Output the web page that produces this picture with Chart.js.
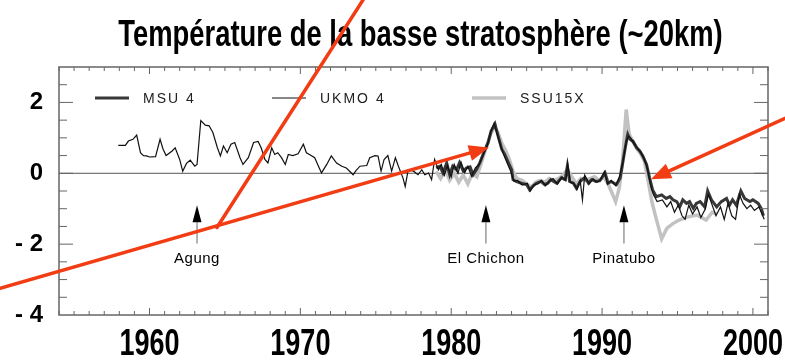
<!DOCTYPE html>
<html>
<head>
<meta charset="utf-8">
<script src="https://cdn.jsdelivr.net/npm/chart.js@4.4.1/dist/chart.umd.min.js"></script>
<style>
  body { margin: 0; background: #fff; }
</style>
</head>
<body>
<canvas id="myChart" width="785" height="360"></canvas>
<script>
// Données (anomalies de température, °C)
var ukmoYears = [1957.93, 1958.4, 1958.6, 1958.9, 1959.15, 1959.4, 1959.6, 1959.8, 1960.0, 1960.4,
  1960.7, 1960.9, 1961.1, 1961.5, 1961.7, 1962.0, 1962.2, 1962.45, 1962.7, 1963.0,
  1963.15, 1963.4, 1963.7, 1963.95, 1964.2, 1964.5, 1964.7, 1964.9, 1965.15, 1965.4,
  1965.65, 1966.0, 1966.2, 1966.55, 1966.9, 1967.2, 1967.4, 1967.65, 1967.85, 1968.1,
  1968.3, 1968.5, 1968.75, 1969.0, 1969.2, 1969.5, 1969.85, 1970.2, 1970.4, 1970.6,
  1970.95, 1971.4, 1971.75, 1972.05, 1972.4, 1972.75, 1973.05, 1973.5, 1973.7, 1973.95,
  1974.4, 1974.6, 1974.95, 1975.15, 1975.35, 1975.55, 1975.8, 1976.05, 1976.3, 1976.5,
  1976.8, 1976.95, 1977.15, 1977.5, 1977.8, 1978.05, 1978.25, 1978.5, 1978.7, 1978.9,
  1979.15, 1979.35, 1979.55, 1979.75, 1980.0, 1980.2, 1980.45, 1980.65, 1980.9, 1981.1,
  1981.35, 1981.6, 1981.85, 1982.1, 1982.4, 1982.6, 1982.85, 1983.05, 1983.3, 1983.5,
  1983.7, 1983.95, 1984.15, 1984.4, 1984.7, 1985.05, 1985.25, 1985.5, 1985.75, 1986.0,
  1986.25, 1986.5, 1986.75, 1987.05, 1987.35, 1987.6, 1987.72, 1987.9, 1988.15, 1988.35,
  1988.55, 1988.7, 1988.85, 1989.15, 1989.4, 1989.65, 1989.9, 1990.15, 1990.35, 1990.6,
  1990.9, 1991.15, 1991.4, 1991.6, 1991.75, 1991.9, 1992.1, 1992.35, 1992.55, 1992.75,
  1993.0, 1993.2, 1993.4, 1993.65, 1994.0, 1994.3, 1994.55, 1994.8, 1995.05, 1995.3,
  1995.5, 1995.75, 1996.0, 1996.3, 1996.55, 1996.85, 1997.05, 1997.3, 1997.55, 1997.85,
  1998.1, 1998.35, 1998.6, 1998.85, 1999.1, 1999.35, 1999.6, 1999.85, 2000.1, 2000.4,
  2000.6, 2000.75];
var ukmoTemps = [0.79, 0.79, 0.91, 0.96, 1.08, 0.58, 0.5, 0.49, 0.46, 0.47,
  0.96, 0.68, 0.5, 0.63, 0.72, 0.39, 0.06, 0.28, 0.37, 0.2,
  0.25, 1.49, 1.36, 1.34, 1.15, 0.72, 0.49, 0.77, 0.58, 0.82,
  0.87, 0.44, 0.25, 0.44, 0.87, 0.9, 0.72, 0.39, 0.29, 0.72,
  0.53, 0.58, 0.44, 0.25, 0.53, 0.5, 0.55, 0.82, 0.58, 0.53,
  0.44, 0.01, 0.25, 0.49, 0.29, 0.2, 0.15, -0.04, 0.08, 0.2,
  0.22, 0.44, 0.5, 0.49, 0.06, 0.39, 0.5, 0.06, 0.44, 0.2,
  -0.13, -0.37, 0.1, 0.06, -0.04, 0.1, -0.04, 0.01, -0.18, 0.39,
  0.1, 0.25, -0.05, 0.22, -0.1, 0.25, 0.0, 0.32, 0.02, 0.2,
  -0.08, 0.15, 0.25, 0.5, 0.8, 1.15, 1.42, 1.1, 0.75, 0.5,
  0.3, 0.05, -0.22, -0.2, -0.33, -0.28, -0.5, -0.32, -0.3, -0.2,
  -0.35, -0.22, -0.15, -0.3, -0.1, -0.2, 0.28, -0.25, -0.3, -0.45,
  -0.2, -0.75, -0.05, -0.3, -0.15, -0.25, -0.18, 0.05, -0.3, -0.2,
  -0.35, -0.1, 0.35, 0.9, 1.05, 1.0, 0.85, 0.7, 0.6, 0.45,
  0.15, -0.3, -0.6, -0.8, -0.75, -0.95, -0.8, -1.1, -0.9, -1.2,
  -1.3, -0.9, -1.15, -0.95, -1.25, -1.0, -0.6, -0.9, -1.2, -0.95,
  -1.3, -0.85, -1.2, -1.3, -0.6, -0.85, -1.0, -0.9, -1.05, -0.95,
  -1.15, -1.3];

var msuYears = [1979.0, 1979.25, 1979.45, 1979.7, 1979.9, 1980.1, 1980.35, 1980.55, 1980.8, 1981.0,
  1981.25, 1981.45, 1981.7, 1981.9, 1982.2, 1982.45, 1982.65, 1982.9, 1983.1, 1983.35,
  1983.55, 1983.75, 1984.0, 1984.1, 1984.3, 1984.65, 1985.0, 1985.2, 1985.4, 1985.65,
  1985.95, 1986.2, 1986.4, 1986.6, 1987.0, 1987.3, 1987.55, 1987.7, 1987.85, 1988.1,
  1988.3, 1988.55, 1988.85, 1989.1, 1989.3, 1989.6, 1989.85, 1990.2, 1990.4, 1990.6,
  1990.95, 1991.2, 1991.35, 1991.5, 1991.7, 1991.85, 1992.05, 1992.3, 1992.5, 1992.7,
  1992.95, 1993.15, 1993.35, 1993.6, 1993.95, 1994.25, 1994.5, 1994.7, 1994.95, 1995.15,
  1995.35, 1995.6, 1995.8, 1996.05, 1996.25, 1996.5, 1996.8, 1997.0, 1997.25, 1997.6,
  1997.9, 1998.25, 1998.45, 1998.65, 1998.9, 1999.2, 1999.45, 1999.8, 2000.0, 2000.35,
  2000.55, 2000.7];
var msuTemps = [0.15, 0.2, 0.01, 0.29, -0.04, 0.2, 0.1, 0.3, 0.06, 0.15,
  0.18, -0.04, 0.12, 0.3, 0.63, 0.87, 1.2, 1.39, 1.06, 0.68,
  0.53, 0.34, 0.1, -0.18, -0.23, -0.28, -0.32, -0.47, -0.37, -0.28,
  -0.23, -0.32, -0.28, -0.18, -0.28, -0.13, -0.18, 0.2, -0.23, -0.28,
  -0.42, -0.23, -0.12, -0.28, -0.18, -0.23, -0.21, 0.01, -0.28, -0.23,
  -0.32, -0.13, 0.25, 0.63, 1.1, 0.96, 0.9, 0.72, 0.63, 0.49,
  0.25, -0.13, -0.47, -0.66, -0.61, -0.71, -0.66, -0.75, -0.8, -0.95,
  -0.75, -0.85, -0.8, -0.99, -0.85, -0.8, -0.95, -0.5, -0.75, -0.95,
  -0.8, -0.71, -0.9, -0.75, -0.9, -0.5, -0.71, -0.8, -0.75, -0.85,
  -0.99, -1.2];

var ssuYears = [1979.0, 1979.3, 1979.6, 1979.9, 1980.2, 1980.5, 1980.8, 1981.1, 1981.4, 1981.7,
  1982.0, 1982.3, 1982.6, 1982.85, 1983.1, 1983.35, 1983.6, 1983.85, 1984.1, 1984.35,
  1984.7, 1985.0, 1985.3, 1985.6, 1985.9, 1986.2, 1986.5, 1986.8, 1987.1, 1987.4,
  1987.7, 1988.0, 1988.3, 1988.6, 1988.9, 1989.2, 1989.5, 1989.8, 1990.1, 1990.4,
  1990.65, 1990.9, 1991.15, 1991.35, 1991.6, 1991.8, 1992.05, 1992.3, 1992.55, 1992.8,
  1993.05, 1993.3, 1993.6, 1993.95, 1994.3, 1994.7, 1995.1, 1995.7, 1996.3, 1996.9,
  1997.3, 1997.6];
var ssuTemps = [0.05, -0.15, 0.1, -0.2, 0.0, -0.25, -0.05, -0.3, 0.0, -0.1,
  0.3, 0.7, 1.1, 1.3, 1.15, 0.85, 0.65, 0.4, 0.05, -0.15,
  -0.2, -0.3, -0.4, -0.25, -0.2, -0.25, -0.15, -0.2, -0.15, -0.05,
  0.1, -0.1, -0.3, -0.15, -0.2, -0.15, -0.1, -0.2, -0.1, -0.3,
  -0.55, -0.8, -0.4, 0.3, 1.8, 1.1, 0.9, 0.7, 0.55, 0.35,
  -0.2, -0.8, -1.3, -1.85, -1.55, -1.42, -1.32, -1.23, -1.18, -1.32,
  -1.1, -1.15];

var xTicks = [1960, 1970, 1980, 1990, 2000];
var yTicks = [-4, -2, 0, 2];

// Éruptions volcaniques
var volcanNoms = ['Agung', 'El Chichon', 'Pinatubo'];
var volcanAnnees = [1963.15, 1982.3, 1991.45];

var titre = 'Température de la basse stratosphère (~20km)';

function points(xs, ys) {
  return xs.map(function (x, i) { return { x: x, y: ys[i] }; });
}

var data = {
  datasets: [
    { label: 'MSU 4', data: points(msuYears, msuTemps), borderColor: '#383838', borderWidth: 3, order: 2 },
    { label: 'UKMO 4', data: points(ukmoYears, ukmoTemps), borderColor: '#111111', borderWidth: 1.2, order: 1 },
    { label: 'SSU15X', data: points(ssuYears, ssuTemps), borderColor: '#c2c2c2', borderWidth: 3.5, order: 3 },
  ],
};

// Flèches rouges ajoutées par-dessus la figure (coordonnées en année / valeur)
var flechesRouges = [
  { from: [1974.15, 4.89], to: [1964.47, -1.53], head: false },
  { from: [1950.09, -3.25], to: [1982.5, 0.73], head: true },
  { from: [2002.13, 1.55], to: [1993.24, -0.17], head: true },
];

// texte étroit et haut, comme dans la figure d'origine
function texteEtroit(ctx, txt, x, y, size, sx) {
  ctx.save();
  ctx.font = 'bold ' + size + 'px "Liberation Sans", Arial, sans-serif';
  ctx.translate(x, y);
  ctx.scale(sx, 1);
  ctx.textAlign = 'center';
  ctx.textBaseline = 'alphabetic';
  ctx.fillText(txt, 0, 0);
  ctx.restore();
}

var decor = {
  id: 'decor',
  beforeDatasetsDraw: function (chart) {
    var ctx = chart.ctx, a = chart.chartArea, y = chart.scales.y;
    var y0 = y.getPixelForValue(0);
    ctx.save();
    ctx.strokeStyle = '#555';
    ctx.lineWidth = 1;
    ctx.beginPath();
    ctx.moveTo(a.left, y0);
    ctx.lineTo(a.right, y0);
    ctx.stroke();
    ctx.restore();
  },
  afterDatasetsDraw: function (chart) {
    var ctx = chart.ctx, a = chart.chartArea, x = chart.scales.x, y = chart.scales.y;
    ctx.save();
    // cadre
    ctx.strokeStyle = '#666';
    ctx.lineWidth = 1.5;
    ctx.strokeRect(a.left, a.top, a.right - a.left, a.bottom - a.top);
    // graduations vers l'intérieur
    ctx.lineWidth = 1;
    ctx.beginPath();
    for (var yr = 1954; yr <= 2001; yr++) {
      var px = x.getPixelForValue(yr);
      var len = yr % 10 === 0 ? 7 : 4;
      ctx.moveTo(px, a.bottom); ctx.lineTo(px, a.bottom - len);
      ctx.moveTo(px, a.top); ctx.lineTo(px, a.top + len);
    }
    for (var v = -3.5; v < 3; v += 0.5) {
      var py = y.getPixelForValue(v);
      var l2 = v % 2 === 0 ? 14 : 8;
      ctx.moveTo(a.left, py); ctx.lineTo(a.left + l2, py);
      ctx.moveTo(a.right, py); ctx.lineTo(a.right - l2, py);
    }
    ctx.stroke();

    // légende dans le cadre
    var lx = [36, 213, 413];
    var ly = a.top + 31;
    ctx.font = '14px "Liberation Sans", Arial, sans-serif';
    ctx.letterSpacing = '2px';
    ctx.textBaseline = 'middle';
    ctx.textAlign = 'left';
    ctx.fillStyle = '#222';
    chart.data.datasets.forEach(function (ds, i) {
      var sx = a.left + lx[i];
      ctx.strokeStyle = ds.borderColor;
      ctx.lineWidth = ds.borderWidth;
      ctx.beginPath();
      ctx.moveTo(sx, ly);
      ctx.lineTo(sx + 34, ly);
      ctx.stroke();
      ctx.fillText(ds.label, sx + 48, ly + 1);
    });

    // éruptions
    ctx.letterSpacing = '0.5px';
    ctx.font = '15px "Liberation Sans", Arial, sans-serif';
    ctx.textAlign = 'center';
    volcanNoms.forEach(function (nom, i) {
      var px = x.getPixelForValue(volcanAnnees[i]);
      var tip = y.getPixelForValue(-0.9);
      var base = y.getPixelForValue(-1.38);
      var bottom = y.getPixelForValue(-1.98);
      ctx.strokeStyle = '#999';
      ctx.lineWidth = 1.5;
      ctx.beginPath();
      ctx.moveTo(px, base);
      ctx.lineTo(px, bottom);
      ctx.stroke();
      ctx.fillStyle = '#000';
      ctx.beginPath();
      ctx.moveTo(px, tip);
      ctx.lineTo(px - 4.5, base);
      ctx.lineTo(px + 4.5, base);
      ctx.closePath();
      ctx.fill();
      ctx.fillText(nom, px, y.getPixelForValue(-2.42));
    });
    ctx.restore();
  },
  afterDraw: function (chart) {
    var ctx = chart.ctx, a = chart.chartArea, x = chart.scales.x, y = chart.scales.y;
    ctx.save();
    ctx.fillStyle = '#000';
    // titre
    texteEtroit(ctx, titre, (a.left + a.right) / 2 + 7, 46, 37, 0.74);
    // étiquettes des années
    xTicks.forEach(function (yr) {
      texteEtroit(ctx, String(yr), x.getPixelForValue(yr), 355, 36, 0.75);
    });

    // flèches rouges
    ctx.strokeStyle = '#f23c14';
    ctx.fillStyle = '#f23c14';
    ctx.lineWidth = 3.5;
    ctx.lineCap = 'round';
    flechesRouges.forEach(function (f) {
      var x1 = x.getPixelForValue(f.from[0]), y1 = y.getPixelForValue(f.from[1]);
      var x2 = x.getPixelForValue(f.to[0]), y2 = y.getPixelForValue(f.to[1]);
      var ang = Math.atan2(y2 - y1, x2 - x1);
      var hl = f.head ? 20 : 0;
      ctx.beginPath();
      ctx.moveTo(x1, y1);
      ctx.lineTo(x2 - hl * Math.cos(ang) * 0.8, y2 - hl * Math.sin(ang) * 0.8);
      ctx.stroke();
      if (f.head) {
        ctx.beginPath();
        ctx.moveTo(x2, y2);
        ctx.lineTo(x2 - hl * Math.cos(ang) + 8 * Math.sin(ang), y2 - hl * Math.sin(ang) - 8 * Math.cos(ang));
        ctx.lineTo(x2 - hl * Math.cos(ang) - 8 * Math.sin(ang), y2 - hl * Math.sin(ang) + 8 * Math.cos(ang));
        ctx.closePath();
        ctx.fill();
      }
    });
    ctx.restore();
  },
};

var options = {
  responsive: false,
  animation: false,
  layout: { padding: { top: 67, right: 17, left: 0, bottom: 0 } },
  elements: { point: { radius: 0 }, line: { tension: 0 } },
  plugins: { legend: { display: false }, tooltip: { enabled: false }, title: { display: false } },
  scales: {
    x: {
      type: 'linear',
      min: 1954,
      max: 2001,
      afterBuildTicks: function (s) { s.ticks = xTicks.map(function (v) { return { value: v }; }); },
      afterFit: function (s) { s.height = 45; },
      ticks: { display: false },
      grid: { display: false, drawTicks: false },
      border: { display: false },
    },
    y: {
      min: -4,
      max: 3,
      afterBuildTicks: function (s) { s.ticks = yTicks.map(function (v) { return { value: v }; }); },
      afterFit: function (s) { s.width = 59; },
      ticks: {
        color: '#000',
        padding: 16,
        callback: function (v) { return v < 0 ? '- ' + Math.abs(v) : String(v); },
        font: { family: '"Liberation Sans", Arial, sans-serif', size: 24, weight: 'bold' },
      },
      grid: { display: false, drawTicks: false },
      border: { display: false },
    },
  },
};

var ctx = document.getElementById('myChart').getContext('2d');
var myChart = new Chart(ctx, {
  type: 'line',
  data: data,
  options: options,
  plugins: [decor],
});
</script>
</body>
</html>
